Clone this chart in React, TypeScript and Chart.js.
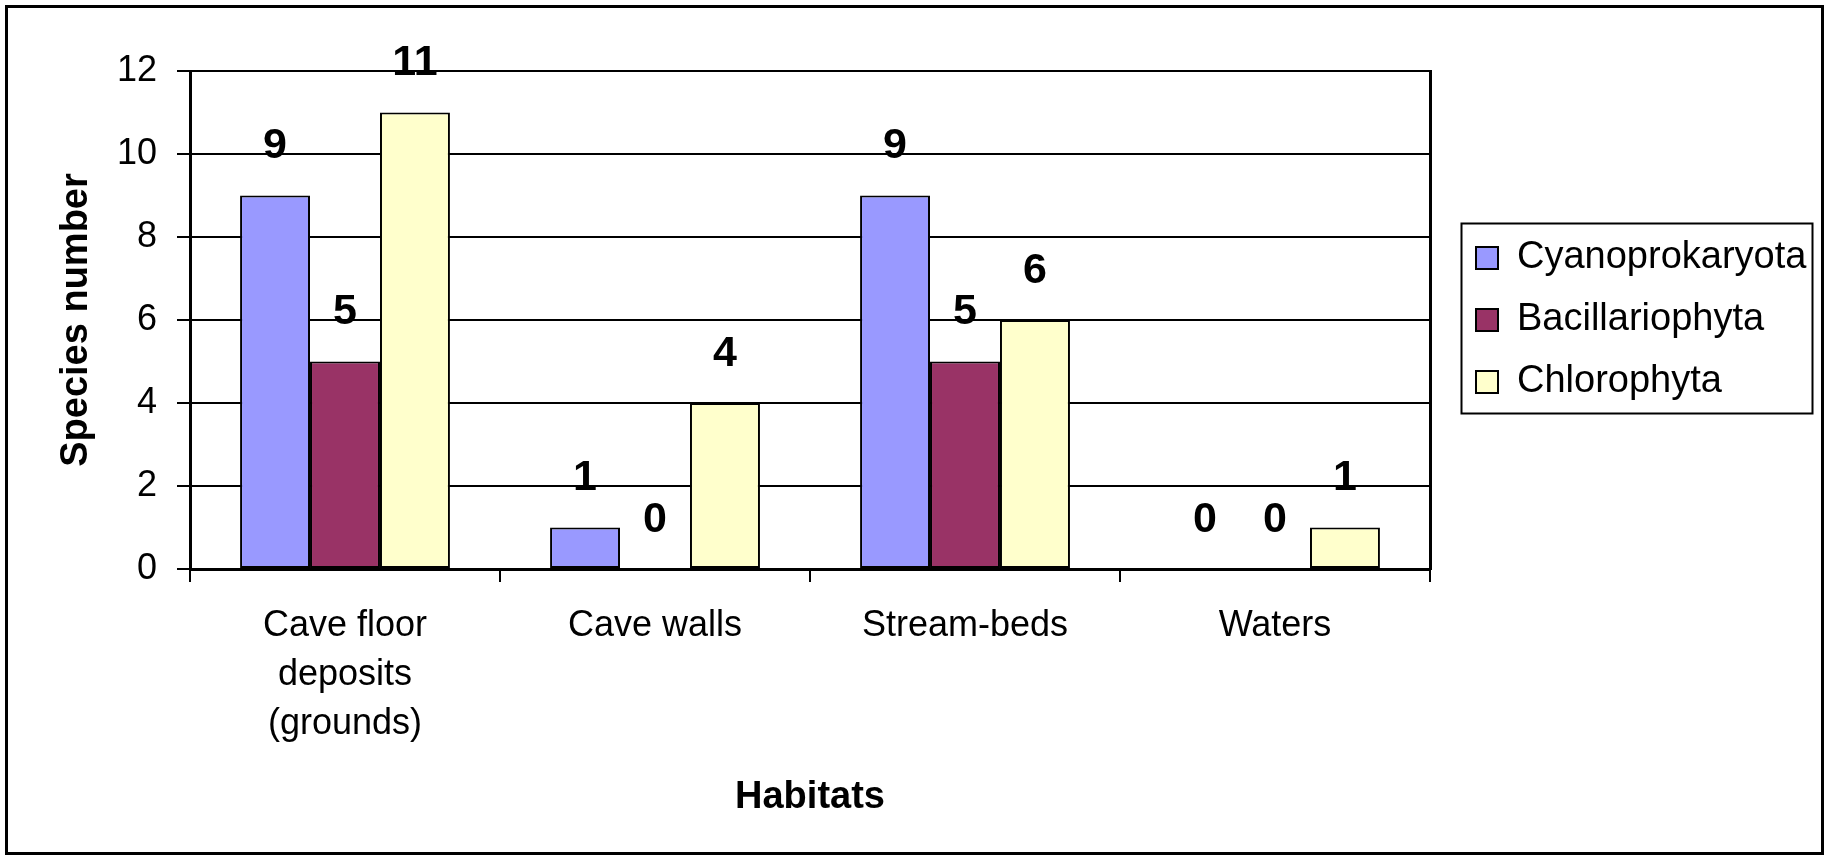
import React, { useEffect, useRef } from "react";
import { Chart, registerables } from "chart.js";

Chart.register(...registerables);

const categories: (string | string[])[] = [
  ["Cave floor", "deposits", "(grounds)"],
  "Cave walls",
  "Stream-beds",
  "Waters",
];
const seriesNames = ["Cyanoprokaryota", "Bacillariophyta", "Chlorophyta"];
const cyanoprokaryota = [9, 1, 9, 0];
const bacillariophyta = [5, 0, 5, 0];
const chlorophyta = [11, 4, 6, 1];
const seriesColors = ["#9999FF", "#993366", "#FFFFCC"];
const yTickMin = 0;
const yTickMax = 12;
const yTickStep = 2;

const W = 1831;
const H = 860;
const FONT = "'Liberation Sans', Arial, sans-serif";

const bgPlugin = {
  id: "bg",
  beforeDraw(chart: any) {
    const ctx = chart.ctx;
    ctx.save();
    ctx.fillStyle = "#fff";
    ctx.fillRect(0, 0, chart.width, chart.height);
    ctx.restore();
  },
  afterDraw(chart: any) {
    const ctx = chart.ctx;
    ctx.save();
    ctx.strokeStyle = "#000";
    ctx.lineWidth = 3;
    ctx.strokeRect(6.5, 6.5, 1816, 847);
    // legend frame
    const leg = chart.legend;
    if (leg && leg.legendHitBoxes && leg.legendHitBoxes.length) {
      const hb = leg.legendHitBoxes;
      const first = hb[0];
      const last = hb[hb.length - 1];
      const l = first.left - 15;
      const t = first.top - 16;
      const r = first.left + 336;
      const b = last.top + last.height + 12;
      ctx.lineWidth = 2;
      ctx.strokeRect(l + 0.5, t + 0.5, r - l, b - t);
    }
    ctx.restore();
  },
};

const legendWidthPlugin = {
  id: "legendWidth",
  beforeLayout(chart: any) {
    const leg = chart.legend;
    if (leg && !leg.__patched) {
      const orig = leg.fit.bind(leg);
      leg.fit = function () {
        orig();
        leg.width = W - 1452;
      };
      leg.__patched = true;
    }
  },
};

const valueLabelPlugin = {
  id: "valueLabels",
  afterDatasetsDraw(chart: any) {
    const ctx = chart.ctx;
    ctx.save();
    ctx.fillStyle = "#000";
    ctx.font = `bold 43px ${FONT}`;
    ctx.textAlign = "center";
    ctx.textBaseline = "middle";
    chart.data.datasets.forEach((ds: any, di: number) => {
      const meta = chart.getDatasetMeta(di);
      meta.data.forEach((el: any, i: number) => {
        ctx.fillText(String(ds.data[i]), el.x, el.y - 49);
      });
    });
    ctx.restore();
  },
};

export default function App() {
  const ref = useRef<HTMLCanvasElement | null>(null);

  useEffect(() => {
    document.body.style.margin = "0";
    const canvas = ref.current;
    if (!canvas) return;
    const values = [cyanoprokaryota, bacillariophyta, chlorophyta];
    const chart = new Chart(canvas, {
      type: "bar",
      data: {
        labels: categories as any,
        datasets: seriesNames.map((name, i) => ({
          label: name,
          data: values[i],
          backgroundColor: seriesColors[i],
          borderColor: "#000",
          borderWidth: 2,
          borderSkipped: false,
          categoryPercentage: 0.677,
          barPercentage: 1,
        })),
      },
      options: {
        responsive: false,
        animation: false,
        devicePixelRatio: 1,
        events: [],
        layout: { padding: { left: 54, top: 71, right: 0, bottom: 40 } },
        plugins: {
          tooltip: { enabled: false },
          legend: {
            display: true,
            position: "right",
            fullSize: false,
            align: "center",
            labels: {
              boxWidth: 22,
              boxHeight: 22,
              padding: 24,
              color: "#000",
              font: { size: 38, family: FONT },
            },
          },
        },
        scales: {
          x: {
            offset: true,
            grid: {
              display: true,
              drawOnChartArea: false,
              drawTicks: true,
              tickLength: 13,
              color: "#000",
              lineWidth: 2,
              offset: true,
            },
            border: { display: true, color: "#000", width: 3 },
            ticks: {
              color: "#000",
              font: { size: 36, family: FONT, lineHeight: 1.36 },
              padding: 20,
              maxRotation: 0,
              autoSkip: false,
            },
            title: {
              display: true,
              text: "Habitats",
              color: "#000",
              font: { size: 38, weight: "bold", family: FONT },
              padding: 0,
            },
            afterFit(s: any) {
              s.height = H - 40 - 569;
            },
          },
          y: {
            min: yTickMin,
            max: yTickMax,
            grid: {
              color: "#000",
              lineWidth: 2,
              drawTicks: true,
              tickLength: 13,
            },
            border: { display: true, color: "#000", width: 3 },
            ticks: {
              stepSize: yTickStep,
              color: "#000",
              font: { size: 36, family: FONT },
              padding: 20,
            },
            title: {
              display: true,
              text: "Species number",
              color: "#000",
              font: { size: 38, weight: "bold", family: FONT },
              padding: 0,
            },
            afterFit(s: any) {
              s.width = 190 - 54;
            },
          },
          y2: {
            position: "right",
            display: true,
            grid: { display: false, drawTicks: false },
            ticks: { display: false },
            border: { display: true, color: "#000", width: 3 },
            afterFit(s: any) {
              s.width = 22;
            },
          },
        },
      } as any,
      plugins: [bgPlugin, legendWidthPlugin, valueLabelPlugin],
    });
    return () => chart.destroy();
  }, []);

  return (
    <div style={{ width: W, height: H }}>
      <canvas ref={ref} width={W} height={H} style={{ width: W, height: H, display: "block" }} />
    </div>
  );
}
